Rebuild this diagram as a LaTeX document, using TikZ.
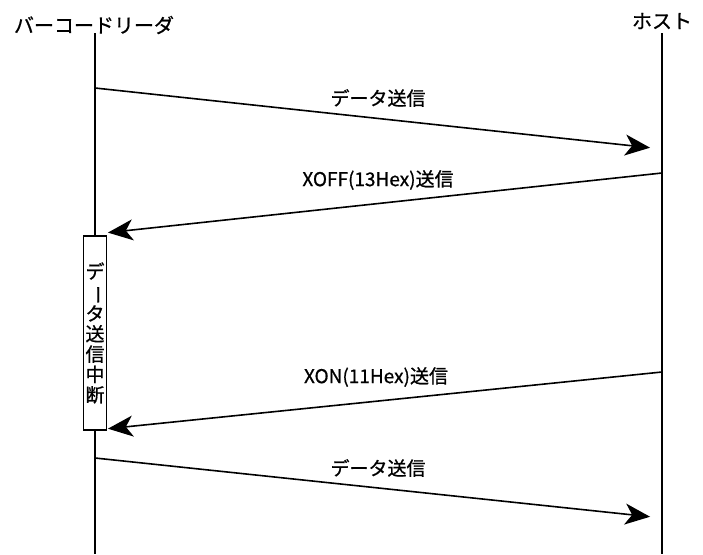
\documentclass[tikz,border=0pt]{standalone}
\usepackage{fontspec}
\usepackage{graphicx}
\setmainfont[FakeBold=0.8]{Noto Sans CJK JP}
\usetikzlibrary{arrows.meta}
\newcommand{\tatebar}{\rotatebox[origin=c]{-90}{ー}}
\tikzset{
	msgarrow/.style={line width=1.6pt, -{Stealth[length=25pt, width=21pt, inset=7pt]}},
	msglabel/.style={font=\fontsize{19}{21}\selectfont, inner sep=0pt},
}

\begin{document}
\begin{tikzpicture}[x=1pt, y=-1pt]
		%%%%% START %%%%%
		\useasboundingbox (0, 0) rectangle (703, 554);
		
		\node[font=\fontsize{20}{22}\selectfont, inner sep=0pt] (reader) at (94, 25) {バーコードリーダ};
		\node[font=\fontsize{20}{22}\selectfont, inner sep=0pt] (host) at (662, 21) {ホスト};
		
		\coordinate (readertop) at (95, 33);
		\coordinate (readerend) at (95, 554);
		\coordinate (hosttop) at (662, 33);
		\coordinate (hostend) at (662, 554);
		\draw[line width=1.6pt] (readertop) -- (readerend);
		\draw[line width=1.6pt] (hosttop) -- (hostend);
		
		\node[draw, line width=1.6pt, fill=white, minimum width=23pt, minimum height=194pt, inner sep=0pt, align=center,
			font=\fontsize{19}{20.3}\selectfont] (pause) at (95, 333)
			{デ\\\tatebar\\タ\\送\\信\\中\\断};
		
		\coordinate (rd1) at (95, 88);
		\coordinate (hs1) at (662, 149);
		\coordinate (hs2) at (662, 173);
		\coordinate (rd2) at (95, 234);
		\coordinate (hs3) at (662, 372);
		\coordinate (rd3) at (95, 430);
		\coordinate (rd4) at (95, 458);
		\coordinate (hs4) at (662, 518);
		
		\draw[msgarrow, shorten >=12pt] (rd1) -- (hs1);
		\draw[msgarrow, shorten >=13pt] (hs2) -- (rd2);
		\draw[msgarrow, shorten >=13pt] (hs3) -- (rd3);
		\draw[msgarrow, shorten >=12pt] (rd4) -- (hs4);
		
		\node[msglabel] (send1) at (378, 98) {データ送信};
		\node[msglabel] (xoff) at (378, 180) {XOFF(13Hex)送信};
		\node[msglabel] (xon) at (376, 377) {XON(11Hex)送信};
		\node[msglabel] (send2) at (378, 468) {データ送信};
		
		%%%%% END %%%%%
	\end{tikzpicture}
\end{document}
